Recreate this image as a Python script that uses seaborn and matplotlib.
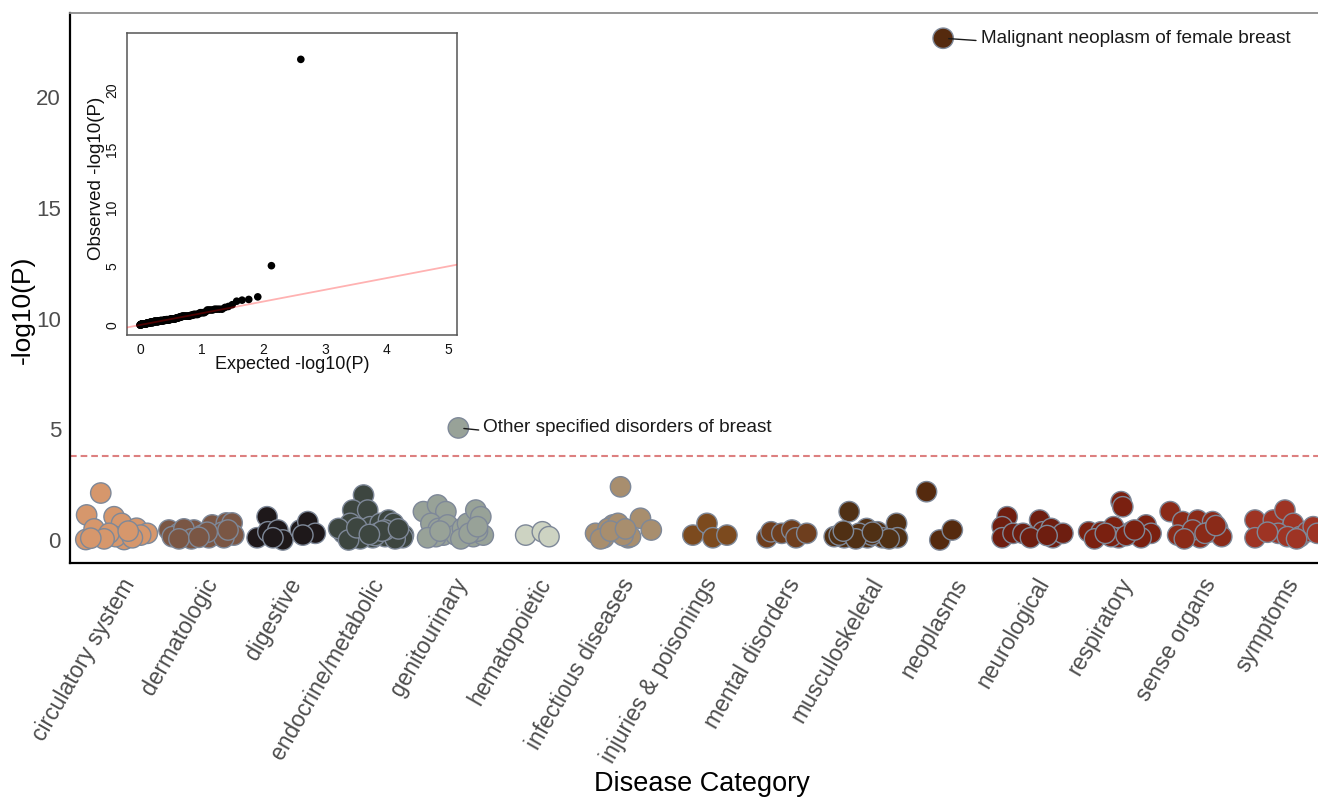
import numpy as np
import pandas as pd
import matplotlib
matplotlib.use("Agg")
import matplotlib.pyplot as plt
import seaborn as sns

# ---------------- data ----------------
categories = ["circulatory system", "dermatologic", "digestive", "endocrine/metabolic",
              "genitourinary", "hematopoietic", "infectious diseases", "injuries & poisonings",
              "mental disorders", "musculoskeletal", "neoplasms", "neurological",
              "respiratory", "sense organs", "symptoms"]

cat_colors = ["#D6976C", "#7A5644", "#1E181A", "#3D4640", "#98A298", "#CDD3C2", "#A88E6E",
              "#7C4A1E", "#6E3E1E", "#503014", "#552A0E", "#6E1E10", "#7A2010", "#8A2A18",
              "#9E3424"]

# -log10(P) values and horizontal jitter (category units)
circ_vals = [2.12, 1.13, 1.05, 0.02, 0.20, 0.15, 0.75, 0.02, 0.37, 0.53, 0.30, 0.22, 0.15, 0.50, 0.30, 0.10, 0.05, 0.40, 0.08]
circ_offs = [-0.23, -0.40, -0.07, -0.41, -0.28, -0.23, 0.02, 0.05, 0.13, 0.20, 0.33, 0.25, -0.05, -0.31, -0.13, 0.15, -0.19, 0.10, -0.35]

derm_vals = [0.45, 0.30, 0.15, 0.45, 0.22, 0.68, 0.22, 0.77, 0.77, 0.22, 0.15, 0.10, 0.50, 0.35, 0.05, 0.10, 0.05, 0.35, 0.12, 0.45]
derm_offs = [-0.41, -0.29, -0.19, -0.11, -0.01, 0.11, 0.17, 0.28, 0.35, 0.37, -0.37, 0.07, -0.23, 0.23, -0.14, 0.25, -0.29, 0.05, -0.05, 0.30]

dig_vals = [1.05, 0.10, 0.37, 0.45, 0.00, 0.10, 0.45, 0.83, 0.30, 0.22]
dig_offs = [-0.23, -0.35, -0.22, -0.10, -0.04, -0.16, 0.17, 0.26, 0.35, 0.20]

endo_vals = [2.03, 1.35, 1.35, 0.75, 0.30, 0.10, 0.37, 0.60, 0.75, 0.90, 0.75, 0.30, 0.15, 0.30, 0.22,
             0.10, 0.15, 0.52, 0.37, 0.10, 0.05, 0.20, 0.05, 0.00, 0.45, 0.55, 0.40, 0.25, 0.50]
endo_offs = [-0.07, -0.20, -0.02, -0.23, -0.31, -0.20, -0.08, 0.01, 0.13, 0.23, 0.29, 0.10, 0.19, 0.34, 0.41,
             0.04, -0.14, -0.37, 0.25, 0.40, -0.11, 0.07, 0.31, -0.25, 0.19, -0.15, 0.15, 0.00, 0.35]

geni_vals = [1.28, 1.58, 1.28, 0.75, 0.52, 0.68, 0.22, 0.15, 0.22, 0.52, 0.75, 1.35, 1.05, 0.15, 0.22,
             5.06, 0.10, 0.05, 0.40, 0.40, 0.30, 0.60]
geni_offs = [-0.35, -0.18, -0.08, -0.26, -0.17, -0.06, -0.11, -0.20, 0.04, 0.12, 0.18, 0.28, 0.34, 0.25, 0.37,
             0.07, -0.30, 0.10, 0.30, -0.15, 0.20, 0.30]

hema_vals = [0.22, 0.37, 0.15]
hema_offs = [-0.12, 0.08, 0.16]

infe_vals = [2.40, 0.30, 0.10, 0.68, 0.45, 0.30, 0.10, 0.15, 0.98, 0.45, 0.52, 0.75, 0.20, 0.05, 0.40, 0.50]
infe_offs = [0.02, -0.28, -0.18, -0.07, -0.04, 0.02, 0.11, 0.14, 0.26, 0.39, -0.13, -0.01, 0.05, -0.22, -0.10, 0.08]

inju_vals = [0.22, 0.75, 0.10, 0.22]
inju_offs = [-0.11, 0.06, 0.13, 0.30]

ment_vals = [0.10, 0.37, 0.30, 0.45, 0.10, 0.30]
ment_offs = [-0.22, -0.17, -0.04, 0.08, 0.13, 0.26]

musc_vals = [1.28, 0.15, 0.10, 0.52, 0.10, 0.37, 0.10, 0.75, 0.10, 0.22, 0.22, 0.30, 0.05, 0.05, 0.35, 0.40]
musc_offs = [-0.23, -0.41, -0.29, -0.02, -0.01, 0.11, 0.17, 0.34, 0.35, 0.04, -0.35, -0.11, 0.25, -0.15, 0.05, -0.30]

neop_vals = [2.18, 22.66, 0.00, 0.45]
neop_offs = [-0.30, -0.10, -0.14, 0.01]

neur_vals = [1.05, 0.60, 0.10, 0.30, 0.30, 0.90, 0.37, 0.52, 0.10, 0.30, 0.10, 0.20]
neur_offs = [-0.33, -0.39, -0.39, -0.26, -0.14, 0.06, 0.10, 0.20, 0.22, 0.34, -0.05, 0.15]

resp_vals = [1.73, 1.50, 0.37, 0.37, 0.60, 0.10, 0.37, 0.22, 0.68, 0.30, 0.15, 0.10, 0.05, 0.20, 0.45, 0.30]
resp_offs = [0.04, 0.06, -0.35, -0.20, -0.05, 0.01, 0.16, 0.25, 0.34, 0.40, -0.08, 0.28, -0.28, 0.10, 0.20, -0.15]

sens_vals = [1.28, 0.83, 0.90, 0.83, 0.22, 0.22, 0.10, 0.37, 0.52, 0.15, 0.45, 0.30, 0.05, 0.65]
sens_offs = [-0.37, -0.22, -0.04, 0.14, -0.28, -0.13, -0.01, 0.11, 0.20, 0.25, -0.10, 0.05, -0.20, 0.18]

symp_vals = [0.90, 0.10, 0.90, 1.35, 0.75, 0.30, 0.15, 0.15, 0.37, 0.60, 0.30, 0.35, 0.05]
symp_offs = [-0.35, -0.35, -0.13, 0.01, 0.11, -0.07, 0.04, 0.19, 0.28, 0.35, 0.40, -0.20, 0.15]

label_texts = ["Malignant neoplasm of female breast", "Other specified disorders of breast"]
label_values = [22.66, 5.06]

threshold = 3.78

# ---------------- build table ----------------
all_vals = [circ_vals, derm_vals, dig_vals, endo_vals, geni_vals, hema_vals, infe_vals, inju_vals,
            ment_vals, musc_vals, neop_vals, neur_vals, resp_vals, sens_vals, symp_vals]
all_offs = [circ_offs, derm_offs, dig_offs, endo_offs, geni_offs, hema_offs, infe_offs, inju_offs,
            ment_offs, musc_offs, neop_offs, neur_offs, resp_offs, sens_offs, symp_offs]
rows = []
for i, (cat, vals, offs) in enumerate(zip(categories, all_vals, all_offs)):
    for v, o in zip(vals, offs):
        rows.append({"category": cat, "xpos": i + o, "logp": v})
df = pd.DataFrame(rows)
palette = dict(zip(categories, cat_colors))

# QQ data
obs = np.sort(df["logp"].values)[::-1]
n = len(obs)
expct = -np.log10((np.arange(1, n + 1) - 0.5) / n)
qq = pd.DataFrame({"expected": expct, "observed": obs})

# ---------------- plot ----------------
sns.set_style("white")
plt.rcParams["font.family"] = ["Liberation Sans", "DejaVu Sans"]

W, H = 1318, 799
fig = plt.figure(figsize=(W / 100, H / 100), dpi=100)
ax = fig.add_axes([70 / W, 1 - 563 / H, 1264 / W, 550 / H])

sns.scatterplot(data=df, x="xpos", y="logp", hue="category", palette=palette, s=215,
                edgecolor="#7E8898", linewidth=1.0, legend=False, ax=ax, zorder=3)

ax.axhline(threshold, color="#DD8080", lw=1.5, linestyle=(0, (3.2, 1.9)), zorder=2)

ax.set_xlim(-0.6, 14.6)
ax.set_ylim(-1.04, 23.8)
ax.set_xticks(range(len(categories)))
ax.set_xticklabels(categories, rotation=60, ha="right", va="top", rotation_mode="anchor",
                   fontsize=16.5, color="#4D4D4D")
ax.set_yticks([0, 5, 10, 15, 20])
ax.tick_params(axis="y", labelsize=16, labelcolor="#4D4D4D")
ax.tick_params(axis="both", length=4, width=1, color="#333333", direction="out", pad=2.5)
ax.tick_params(axis="x", pad=4)

for s in ["left", "bottom"]:
    ax.spines[s].set_color("black")
    ax.spines[s].set_linewidth(1.6)
ax.spines["top"].set_color("#8C8C8C")
ax.spines["top"].set_linewidth(1.3)
ax.spines["right"].set_visible(False)

ax.set_xlabel("Disease Category", fontsize=19.5, color="black")
ax.xaxis.set_label_coords(0.5, -0.378)
ax.set_ylabel("-log10(P)", fontsize=19, color="black")
ax.yaxis.label.set_va("center")
ax.yaxis.set_label_coords(-0.0375, 0.46)

# annotations
offsets_pt = [(27, 0), (18, 0)]
for txt, val, off in zip(label_texts, label_values, offsets_pt):
    r = df.loc[(df["logp"] - val).abs().idxmin()]
    ax.annotate(txt, xy=(r["xpos"], r["logp"]), xytext=off, textcoords="offset points",
                ha="left", va="center", fontsize=13.7, color="#1A1A1A", zorder=5,
                arrowprops=dict(arrowstyle="-", color="#1A1A1A", lw=1.0,
                                shrinkA=1, shrinkB=4, relpos=(0, 0.35)))

# ---------------- inset QQ ----------------
axi = fig.add_axes([127 / W, 1 - 335 / H, 330 / W, 302 / H])
sns.scatterplot(data=qq, x="expected", y="observed", color="black", s=30, edgecolor="none",
                legend=False, ax=axi, zorder=2)
axi.axline((0, 0), slope=1, color="red", alpha=0.3, lw=1.3, zorder=3)
axi.set_xlim(-0.211, 5.146)
axi.set_ylim(-0.853, 24.91)
axi.set_xticks([0, 1, 2, 3, 4, 5])
axi.set_yticks([0, 5, 10, 15, 20])
axi.tick_params(axis="both", length=4, width=0.8, color="#333333", labelsize=10,
                labelcolor="#111111", direction="out", pad=1.5)
for lbl in axi.get_yticklabels():
    lbl.set_rotation(90)
    lbl.set_va("center")
for s in axi.spines.values():
    s.set_color("#555555")
    s.set_linewidth(1.1)
axi.set_xlabel("Expected -log10(P)", fontsize=13, color="#111111")
axi.xaxis.set_label_coords(0.5, -0.097)
axi.xaxis.label.set_va("center")
axi.set_ylabel("Observed -log10(P)", fontsize=13.5, color="#111111")
axi.yaxis.label.set_va("center")
axi.yaxis.set_label_coords(-0.091, 0.52)

fig.savefig("out.png", dpi=100)
